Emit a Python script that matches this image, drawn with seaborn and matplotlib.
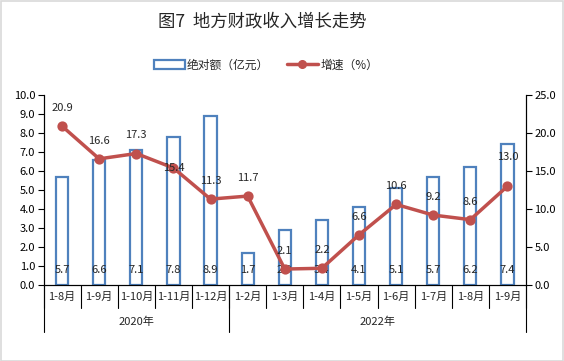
import matplotlib
matplotlib.use("Agg")
import matplotlib.pyplot as plt
import matplotlib.transforms as mtransforms
from matplotlib.patches import Rectangle, Patch
from matplotlib.lines import Line2D
import seaborn as sns
import pandas as pd

sns.set_style("white")
plt.rcParams['font.family'] = ['Noto Sans CJK SC', 'DejaVu Sans']

months = ["1-8月", "1-9月", "1-10月", "1-11月", "1-12月", "1-2月", "1-3月",
          "1-4月", "1-5月", "1-6月", "1-7月", "1-8月 ", "1-9月 "]
month_labels = ["1-8月", "1-9月", "1-10月", "1-11月", "1-12月", "1-2月", "1-3月",
                "1-4月", "1-5月", "1-6月", "1-7月", "1-8月", "1-9月"]
years = ["2020年", "2022年"]
year_counts = [5, 8]
amount = [5.7, 6.6, 7.1, 7.8, 8.9, 1.7, 2.9, 3.4, 4.1, 5.1, 5.7, 6.2, 7.4]
growth = [20.9, 16.6, 17.3, 15.4, 11.3, 11.7, 2.1, 2.2, 6.6, 10.6, 9.2, 8.6, 13.0]

BLUE = "#4F81BD"
RED = "#C0504D"

df = pd.DataFrame({"月份": months, "绝对额": amount, "增速": growth})

W, H = 564, 361
fig = plt.figure(figsize=(W / 100, H / 100), dpi=100)
L, R, T, B = 43.5, 526, 95, 285
ax = fig.add_axes([L / W, (H - B) / H, (R - L) / W, (B - T) / H])

sns.barplot(data=df, x="月份", y="绝对额", color="white", edgecolor=BLUE,
            linewidth=1.6, width=0.33, saturation=1, ax=ax)
ax2 = ax.twinx()
sns.pointplot(data=df, x="月份", y="增速", color=RED, markersize=5.5,
              linewidth=2.5, ax=ax2)

for a in (ax, ax2):
    a.set_xlim(-0.5, len(months) - 0.5)
    a.set_xlabel("")
    a.set_ylabel("")
ax.set_ylim(0, 10)
ax2.set_ylim(0, 25)
ax.set_yticks([i for i in range(11)])
ax.set_yticklabels([f"{i:.1f}" for i in range(11)], fontsize=8)
ax2.set_yticks([0, 5, 10, 15, 20, 25])
ax2.set_yticklabels([f"{v:.1f}" for v in [0, 5, 10, 15, 20, 25]], fontsize=8)
ax.set_xticks([])
ax2.set_xticks([])
for a in (ax, ax2):
    a.spines["top"].set_visible(False)
    for s in ("left", "right", "bottom"):
        a.spines[s].set_color("black")
        a.spines[s].set_linewidth(0.8)
ax.tick_params(axis="y", which="both", left=True, length=4, width=0.8, pad=2, colors="black")
ax2.tick_params(axis="y", which="both", right=True, length=4, width=0.8, pad=2, colors="black")

# bar value labels
for i, v in enumerate(amount):
    ax.annotate(f"{v:.1f}", xy=(i, 0), xytext=(0, 11), textcoords="offset points",
                ha="center", va="center", fontsize=8)

# growth labels
offsets = [13, 13, 13, 0, 13, 13, 13, 13, 13, 13, 13, 13, 21]
for i, (v, o) in enumerate(zip(growth, offsets)):
    ax2.annotate(f"{v:.1f}", xy=(i, v), xytext=(0, o), textcoords="offset points",
                 ha="center", va="center", fontsize=8, zorder=10)

# category axis
axh = B - T
trans = mtransforms.blended_transform_factory(ax.transData, ax.transAxes)
n = len(months)
for i in range(n + 1):
    x = i - 0.5
    ax.plot([x, x], [0, -23 / axh], color="black", lw=0.8, transform=trans, clip_on=False)
for i, lab in enumerate(month_labels):
    ax.text(i, -12 / axh, lab, transform=trans, ha="center", va="center", fontsize=8)
start = 0
for yl, c in zip(years, year_counts):
    ax.plot([start - 0.5, start - 0.5], [0, -47 / axh], color="black", lw=0.8,
            transform=trans, clip_on=False)
    ax.text(start + c / 2 - 0.5, -37 / axh, yl, transform=trans, ha="center",
            va="center", fontsize=8)
    start += c
ax.plot([start - 0.5, start - 0.5], [0, -47 / axh], color="black", lw=0.8,
        transform=trans, clip_on=False)

# title
fig.text(262 / W, 1 - 22 / H, "图7  地方财政收入增长走势", ha="center", va="center",
         fontsize=12.5)

# legend
handles = [Patch(facecolor="white", edgecolor=BLUE, linewidth=1.6),
           Line2D([0], [0], color=RED, lw=2.5, marker="o", markersize=5.5)]
fig.legend(handles, ["绝对额（亿元）", "增速（%）"], loc="center",
           bbox_to_anchor=(266 / W, 1 - 65 / H), ncol=2, frameon=False, fontsize=8.5,
           handlelength=2.6, handleheight=0.8, columnspacing=1.5, handletextpad=0.2)

# figure border
fig.patches.append(Rectangle((0.5 / W, 0.5 / H), 1 - 1.5 / W, 1 - 1.5 / H,
                             transform=fig.transFigure, fill=False,
                             edgecolor="#D9D9D9", lw=1.2))

fig.savefig("out.png", dpi=100)
